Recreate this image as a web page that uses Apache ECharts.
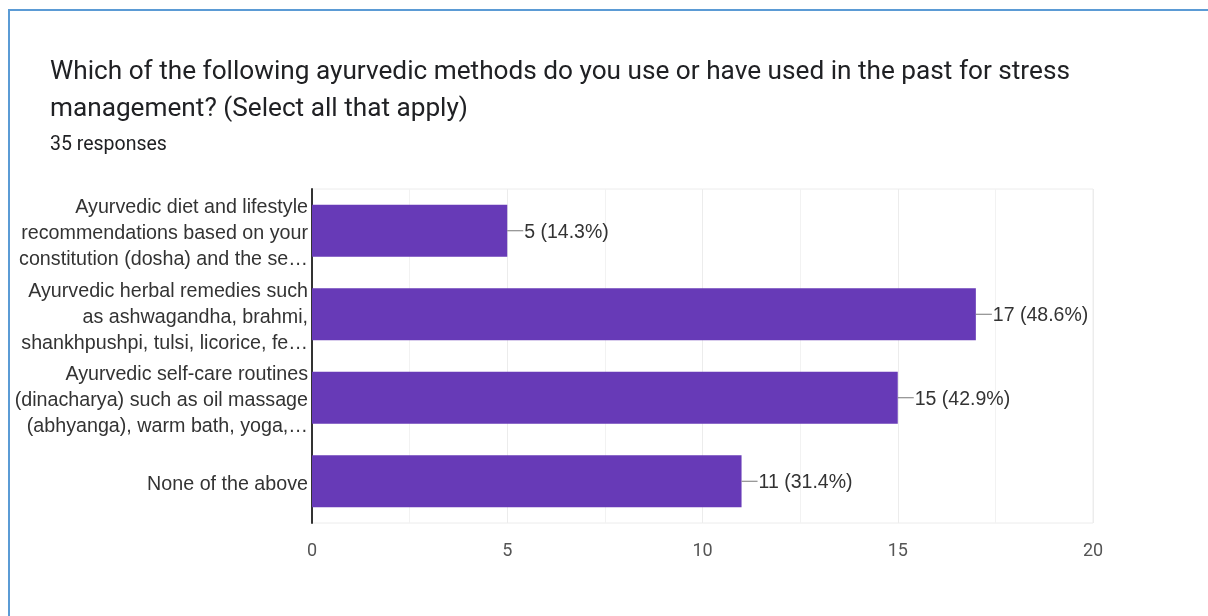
<!DOCTYPE html>
<html>
<head>
<meta charset="utf-8">
<script src="https://cdn.jsdelivr.net/npm/echarts@6/dist/echarts.min.js"></script>
<style>
  html, body { margin: 0; padding: 0; background: #fff; }
  #chart { width: 1208px; height: 616px; }
</style>
</head>
<body>
<div id="chart"></div>
<script>
"use strict";

var categories = [
    "Ayurvedic diet and lifestyle\nrecommendations based on your\nconstitution (dosha) and the se\u2026",
    "Ayurvedic herbal remedies such\nas ashwagandha, brahmi,\nshankhpushpi, tulsi, licorice, fe\u2026",
    "Ayurvedic self-care routines\n(dinacharya) such as oil massage\n(abhyanga), warm bath, yoga,\u2026",
    "None of the above"
];
var counts = [5, 17, 15, 11];
var percents = ["14.3%", "48.6%", "42.9%", "31.4%"];
var xTicks = [0, 5, 10, 15, 20];

function chart() {
    var e = {
        backgroundColor: "#fff",
        animation: false,
        title: [{
            text: "Which of the following ayurvedic methods do you use or have used in the past for stress\nmanagement? (Select all that apply)",
            left: 50,
            top: 54,
            padding: 0,
            textStyle: {
                fontFamily: "Roboto",
                fontSize: 26.2,
                fontWeight: "normal",
                color: "#202124",
                lineHeight: 37
            }
        }, {
            text: "35 responses",
            left: 50,
            top: 133,
            padding: 0,
            textStyle: {
                fontFamily: "Roboto",
                fontSize: 19.5,
                fontWeight: "normal",
                color: "#202124",
                lineHeight: 24
            }
        }],
        graphic: [{
            type: "line",
            shape: { x1: 9, y1: 10, x2: 9, y2: 616 },
            style: { stroke: "#5b9bd5", lineWidth: 2 }
        }, {
            type: "line",
            shape: { x1: 8, y1: 10, x2: 1208, y2: 10 },
            style: { stroke: "#5b9bd5", lineWidth: 2 }
        }],
        grid: {
            show: true,
            left: 312,
            right: 115,
            top: 189,
            bottom: 93,
            borderColor: "#ececec",
            borderWidth: 1
        },
        xAxis: {
            type: "value",
            min: 0,
            max: 20,
            interval: 5,
            axisLine: { show: false },
            axisTick: { show: false },
            axisLabel: {
                color: "#555",
                fontFamily: "Roboto",
                fontSize: 18,
                margin: 19,
                formatter: function (v) {
                    return xTicks.indexOf(v) >= 0 ? String(v) : "";
                }
            },
            splitLine: { lineStyle: { color: "#ececec" } },
            minorTick: { show: false, splitNumber: 2 },
            minorSplitLine: { show: true, lineStyle: { color: "#f2f2f2" } }
        },
        yAxis: {
            type: "category",
            inverse: true,
            data: categories,
            axisTick: { show: false },
            axisLine: {
                onZero: false,
                lineStyle: { color: "#333", width: 2 }
            },
            axisLabel: {
                margin: 4,
                formatter: function (v) {
                    // small spacer on top pushes the block down a few pixels
                    return "{s|}\n" + v.split("\n").map(function (l) {
                        return "{a|" + l + "}";
                    }).join("\n");
                },
                rich: {
                    s: { height: 6, lineHeight: 6, fontSize: 1 },
                    a: {
                        color: "#333",
                        fontFamily: "Liberation Sans",
                        fontSize: 19.7,
                        lineHeight: 26,
                        align: "right"
                    }
                }
            },
            splitLine: { show: false }
        },
        series: [{
            type: "bar",
            data: counts,
            barCategoryGap: "38%",
            itemStyle: { color: "#673ab7" },
            label: {
                show: true,
                position: "right",
                distance: 0,
                formatter: function (p) {
                    return "{l|}{t|" + p.value + " (" + percents[p.dataIndex] + ")}";
                },
                rich: {
                    l: { width: 16, height: 1, backgroundColor: "#777" },
                    t: {
                        color: "#333",
                        fontFamily: "Liberation Sans",
                        fontSize: 19.5,
                        padding: [3, 0, 0, 1]
                    }
                }
            }
        }]
    };
    echarts.init(document.getElementById("chart")).setOption(e);
}
chart();
</script>
</body>
</html>
